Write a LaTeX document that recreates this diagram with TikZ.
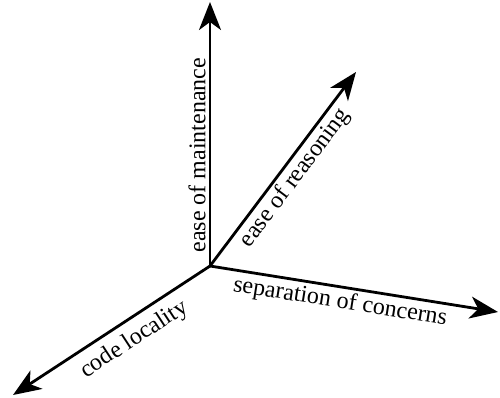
\documentclass[tikz,border=0pt]{standalone}
\usepackage{fontspec}
\setmainfont{Liberation Serif}
\usetikzlibrary{arrows.meta}
\begin{document}
\begin{tikzpicture}[x=1pt,y=-1pt,
  axis/.style={line width=2.8pt,-{Stealth[length=28pt,width=22pt,inset=8pt]}},
  lbl/.style={font=\fontsize{24}{26}\selectfont,inner sep=3pt}]
\useasboundingbox (0,0) rectangle (500,397);
\coordinate (O) at (210,266);
\coordinate (A) at (210,2);
\coordinate (B) at (356,72);
\coordinate (C) at (498,312);
\coordinate (D) at (13,395);
\draw[axis] (O) -- (A) node[lbl,pos=0.42,sloped,above] (la) {ease of maintenance};
\draw[axis] (O) -- (B) node[lbl,pos=0.5,sloped,below] (lb) {ease of reasoning};
\draw[axis] (O) -- (C) node[lbl,pos=0.46,sloped,below] (lc) {separation of concerns};
\draw[axis] (O) -- (D) node[lbl,pos=0.44,sloped,below,inner sep=8pt] (ld) {code locality};
\end{tikzpicture}
\end{document}
